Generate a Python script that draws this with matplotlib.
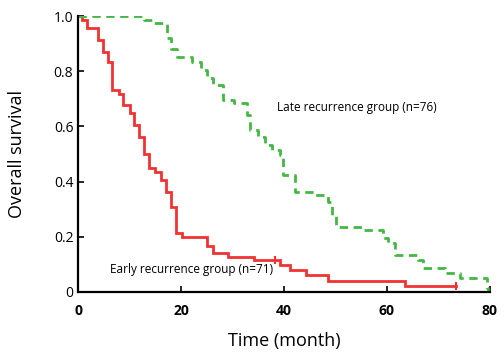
import matplotlib
matplotlib.use("Agg")
import matplotlib.pyplot as plt

# Kaplan-Meier curves (month, survival after step)
early_t = [0, 0.7, 1.7, 3.9, 4.8, 5.9, 6.5, 8.0, 8.8, 10.0, 10.9, 11.9, 12.8, 13.8,
           15.0, 16.1, 17.1, 18.1, 19.0, 20.1, 25.0, 26.2, 29.2, 34.2, 39.2, 41.2,
           44.3, 48.5, 63.5, 73.4]
early_s = [1.0, 0.986, 0.955, 0.913, 0.871, 0.834, 0.732, 0.717, 0.678, 0.647, 0.605,
           0.563, 0.50, 0.448, 0.434, 0.406, 0.363, 0.309, 0.213, 0.20, 0.167, 0.142,
           0.128, 0.116, 0.098, 0.08, 0.062, 0.041, 0.023, 0.023]

late_t = [0, 12.8, 14.6, 17.2, 18.1, 19.2, 22.1, 23.8, 25.0, 26.3, 28.2, 30.2, 32.8,
          33.4, 35.0, 36.3, 37.6, 39.2, 39.9, 42.1, 46.0, 48.5, 49.3, 50.1, 55.1,
          59.3, 60.3, 61.6, 66.1, 67.1, 71.3, 74.2, 79.4, 79.6]
late_s = [1.0, 0.986, 0.973, 0.919, 0.879, 0.853, 0.834, 0.804, 0.774, 0.75, 0.696,
          0.684, 0.641, 0.587, 0.563, 0.533, 0.514, 0.496, 0.424, 0.363, 0.351, 0.327,
          0.279, 0.237, 0.225, 0.194, 0.176, 0.134, 0.116, 0.086, 0.068, 0.05, 0.013, 0.0]

early_cens_t = [38.3, 73.4]
early_cens_s = [0.116, 0.023]

x_ticks = [0, 20, 40, 60, 80]
y_ticks = [0, 0.2, 0.4, 0.6, 0.8, 1.0]
y_tick_labels = ["0", "0.2", "0.4", "0.6", "0.8", "1.0"]

plt.rcParams['font.family'] = ['Open Sans', 'DejaVu Sans']

fig = plt.figure(figsize=(5.04, 3.56), dpi=100)
ax = fig.add_axes([0.155, 0.180, 0.817, 0.775])

red = '#f03232'
green = '#44b844'
ax.step(early_t, early_s, where='post', color=red, lw=2.0, solid_joinstyle='miter')
ax.plot(early_cens_t, early_cens_s, ls='none', marker='|', ms=6, mew=1.5, color=red)
ax.step(late_t, late_s, where='post', color=green, lw=2.0, dashes=(3, 2))

ax.text(38.6, 0.67, "Late recurrence group (n=76)", fontsize=8.5, va='center')
ax.text(6.2, 0.08, "Early recurrence group (n=71)", fontsize=8.5, va='center')

ax.set_xlim(0, 80)
ax.set_ylim(0, 1.0)
ax.set_xticks(x_ticks)
ax.set_xticklabels([str(v) for v in x_ticks], fontweight='bold', fontsize=10)
ax.set_yticks(y_ticks)
ax.set_yticklabels(y_tick_labels, fontsize=10)
ax.tick_params(direction='in', length=4, width=1.2)
ax.tick_params(axis='x', pad=9)
for side in ['top', 'right']:
    ax.spines[side].set_visible(False)
for side in ['left', 'bottom']:
    ax.spines[side].set_linewidth(1.6)
ax.set_clip_on(False)

ax.set_xlabel("Time (month)", fontsize=13, labelpad=10)
ax.set_ylabel("Overall survival", fontsize=13, labelpad=20)

fig.savefig("out.png", dpi=100)
